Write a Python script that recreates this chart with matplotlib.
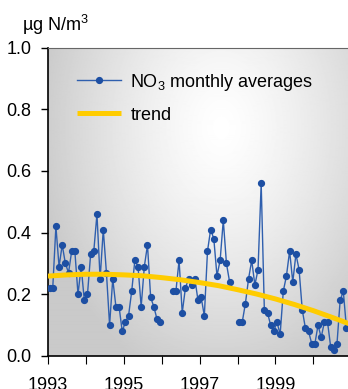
import matplotlib
matplotlib.use("Agg")
import matplotlib.pyplot as plt
import numpy as np

plt.rcParams.update({
    "font.family": "Liberation Sans",
    "mathtext.fontset": "custom",
    "mathtext.rm": "Liberation Sans",
    "mathtext.it": "Liberation Sans",
    "font.size": 13,
})

# ── Data ──────────────────────────────────────────────────────────────────────
# monthly NO3 averages, Jan 1993 .. Nov 2000; nan = missing month
no3 = [0.22, 0.22, 0.42, 0.29, 0.36, 0.30, 0.27, 0.34, 0.34, 0.20, 0.29, 0.18,
       0.20, 0.33, 0.34, 0.46, 0.25, 0.41, 0.27, 0.10, 0.25, 0.16, 0.16, 0.08,
       0.11, 0.13, 0.21, 0.31, 0.29, 0.16, 0.29, 0.36, 0.19, 0.16, 0.12, 0.11,
       np.nan, np.nan, np.nan, 0.21, 0.21, 0.31, 0.14, 0.22, 0.25, 0.23, 0.25, 0.18,
       0.19, 0.13, 0.34, 0.41, 0.38, 0.26, 0.31, 0.44, 0.30, 0.24, np.nan, np.nan,
       0.11, 0.11, 0.17, 0.25, 0.31, 0.23, 0.28, 0.56, 0.15, 0.14, 0.10, 0.08,
       0.11, 0.07, 0.21, 0.26, 0.34, 0.24, 0.33, 0.28, 0.15, 0.09, 0.08, 0.04,
       0.04, 0.10, 0.06, 0.11, 0.11, 0.03, 0.02, 0.04, 0.18, 0.21, 0.09]
start_year = 1993

trend_years = [1993.0, 1993.5, 1994.0, 1994.5, 1995.0, 1995.5, 1996.0, 1996.5,
               1997.0, 1997.5, 1998.0, 1998.5, 1999.0, 1999.5, 2000.0, 2000.5, 2001.0]
trend_vals = [0.259, 0.263, 0.265, 0.265, 0.263, 0.260, 0.254, 0.247,
              0.238, 0.228, 0.215, 0.201, 0.185, 0.167, 0.147, 0.125, 0.102]

year_ticks = list(range(1993, 2001))
y_ticks = [0.0, 0.2, 0.4, 0.6, 0.8, 1.0]

months = start_year + (np.arange(len(no3)) + 0.5) / 12.0

# ── Figure ────────────────────────────────────────────────────────────────────
W, H = 348, 389
fig = plt.figure(figsize=(W / 100, H / 100), dpi=100)
ax = fig.add_axes([48 / W, (H - 356) / H, (W - 48) / W, (356 - 47.5) / H])

xmax = 1993 + 300 / 37.9
ax.set_xlim(1993, xmax)
ax.set_ylim(0, 1.0)

# radial grey background
gx, gy = np.meshgrid(np.linspace(0, 1, 300), np.linspace(0, 1, 300))
r = np.sqrt(((gx - 0.58) / 0.62) ** 2 + ((gy - 0.74) / 0.85) ** 2)
shade = 1.0 - 0.21 * np.clip(r, 0, 1) ** 1.3
ax.imshow(shade, cmap="gray", vmin=0, vmax=1, origin="lower",
          extent=[0, 1, 0, 1], transform=ax.transAxes, aspect="auto",
          interpolation="bilinear", zorder=0)

blue = "#1d4fa3"
ax.plot(months, no3, color="#2f5fae", lw=1.0, marker="o", ms=4.2,
        mfc=blue, mec=blue, zorder=3, label="NO$_3$ monthly averages")
ax.plot(trend_years, trend_vals, color="#ffcc00", lw=3.6, zorder=4,
        solid_capstyle="butt", label="trend")

# ── Axes styling ──────────────────────────────────────────────────────────────
ax.set_yticks(y_ticks)
ax.set_yticklabels([f"{v:.1f}" for v in y_ticks])
ax.set_xticks(year_ticks)
ax.set_xticklabels([str(y) if y % 2 == 1 else "" for y in year_ticks])
ax.tick_params(axis="y", length=5, width=1, pad=7)
ax.tick_params(axis="x", length=6, width=0.8, pad=9)
ax.spines["left"].set_linewidth(1.2)
ax.spines["bottom"].set_linewidth(1.2)
ax.spines["top"].set_color("#666666")
ax.spines["top"].set_linewidth(0.8)
ax.spines["right"].set_visible(False)

leg = ax.legend(loc="upper left", bbox_to_anchor=(0.097, 0.922), frameon=False,
                handlelength=2.45, handletextpad=0.5, labelspacing=0.78,
                numpoints=1, borderaxespad=0, borderpad=0)

fig.text(22 / W, 1 - 31 / H, "µg N/m$^3$", ha="left", va="baseline")

fig.savefig("out.png", dpi=100)
